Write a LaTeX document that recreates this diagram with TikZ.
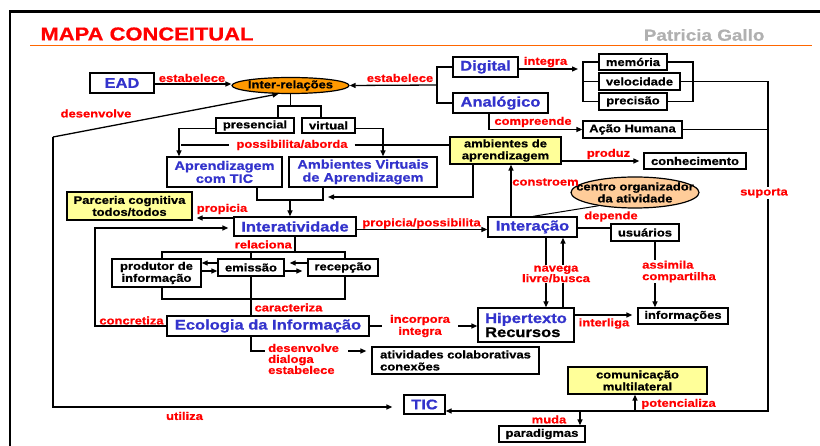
\documentclass[tikz,border=0pt]{standalone}
\usepackage{fontspec}
\setmainfont{Liberation Sans}[FakeStretch=1.18,FakeBold=0.8]
\usetikzlibrary{arrows.meta,shapes.geometric}
\definecolor{tred}{HTML}{FF0000}
\definecolor{tblue}{HTML}{3333CC}
\definecolor{tyel}{HTML}{FFFF99}
\definecolor{torange}{HTML}{FF9900}
\definecolor{tpeach}{HTML}{FFCC99}
\definecolor{tline}{HTML}{FF6600}
\definecolor{pgray}{HTML}{B0B0B0}
\begin{document}
\begin{tikzpicture}[x=1pt,y=-1pt,
  font=\bfseries\fontsize{11}{12}\selectfont,
  bx/.style={draw, line width=1.3pt, fill=white, inner sep=0pt, align=center},
  bl/.style={text=tblue, font=\bfseries\fontsize{14}{15}\selectfont},
  bm/.style={text=tblue, font=\bfseries\fontsize{12.3}{13}\selectfont},
  lbl/.style={text=tred, inner sep=1pt, align=center},
  wl/.style={lbl, fill=white},
  ln/.style={line width=1.3pt},
  arr/.style={ln, -{Triangle[length=6pt,width=5pt]}},
  ell/.style={ellipse, draw, line width=1.2pt, inner sep=0pt}
]
\useasboundingbox (0,0) rectangle (820,446);
% frame and header
\draw[line width=2.5pt] (10,446) -- (10,11.3) -- (820,11.3);
\draw[tline, line width=1.3pt] (30,45.7) -- (812,45.7);
\node[anchor=west, text=tred, font=\bfseries\fontsize{18.6}{20}\selectfont] (title) at (37,34) {MAPA CONCEITUAL};
\node[anchor=east, text=pgray, font=\bfseries\fontsize{16}{18}\selectfont] (auth) at (768,35) {Patricia Gallo};

% nodes
\node[bx,bl,minimum width=64pt,minimum height=20pt] (ead) at (122,83) {EAD};
\node[ell,fill=torange,minimum width=117pt,minimum height=16pt] (inter) at (290.5,85.5) {};
\node (intertxt) at (inter) {Inter-relações};
\node[bx,bl,minimum width=65pt,minimum height=20pt] (dig) at (485.5,67) {Digital};
\node[bx,bl,minimum width=95pt,minimum height=20pt] (ana) at (500.5,103) {Analógico};
\node[bx,minimum width=68pt,minimum height=16pt] (mem) at (633,62) {memória};
\node[bx,minimum width=81pt,minimum height=17pt] (vel) at (639.5,81.5) {velocidade};
\node[bx,minimum width=68pt,minimum height=17pt] (pre) at (633,101.5) {precisão};
\node[bx,minimum width=99pt,minimum height=17pt] (acao) at (632.5,129.5) {Ação Humana};
\node[bx,minimum width=78pt,minimum height=15pt] (pres) at (255,125.5) {presencial};
\node[bx,minimum width=53pt,minimum height=15pt] (virt) at (328.5,125.5) {virtual};
\node[bx,bm,minimum width=115pt,minimum height=30pt] (aptic) at (224.5,172) {Aprendizagem\\com TIC};
\node[bx,bm,minimum width=148pt,minimum height=30pt] (ava) at (363,172) {Ambientes Virtuais\\de Aprendizagem};
\node[bx,fill=tyel,minimum width=111pt,minimum height=27pt] (amb) at (505.5,150.5) {ambientes de\\aprendizagem};
\node[bx,minimum width=102pt,minimum height=16pt] (conh) at (695,161) {conhecimento};
\node[ell,fill=tpeach,minimum width=128pt,minimum height=31pt] (centro) at (635,192.5) {};
\node[align=center] (centrotxt) at (centro) {centro organizador\\da atividade};
\node[bx,fill=tyel,minimum width=125pt,minimum height=28pt] (parc) at (129.5,206) {Parceria cognitiva\\todos/todos};
\node[bx,bl,minimum width=122pt,minimum height=19pt] (intv) at (295,226.5) {Interatividade};
\node[bx,bl,minimum width=89pt,minimum height=20pt] (intc) at (532.5,227) {Interação};
\node[bx,minimum width=68pt,minimum height=17pt] (usu) at (645,232.5) {usuários};
\node[bx,minimum width=89pt,minimum height=28pt] (prod) at (156.5,273) {produtor de\\informação};
\node[bx,minimum width=66pt,minimum height=17pt] (emi) at (251,267.5) {emissão};
\node[bx,minimum width=70pt,minimum height=17pt] (rec) at (343,267.5) {recepção};
\node[bx,minimum width=90pt,minimum height=16pt] (info) at (683,316) {informações};
\node[bx,align=left,minimum width=96pt,minimum height=34pt,font=\bfseries\fontsize{14}{14}\selectfont] (hip) at (526,325) {\textcolor{tblue}{Hipertexto}\\Recursos};
\node[bx,bl,minimum width=202pt,minimum height=20pt] (eco) at (268,326) {Ecologia da Informação};
\node[bx,align=left,minimum width=167pt,minimum height=27pt] (ativ) at (455.5,360.5) {atividades colaborativas\\conexões};
\node[bx,fill=tyel,minimum width=139pt,minimum height=27pt] (com) at (637.5,380.5) {comunicação\\multilateral};
\node[bx,bl,minimum width=41pt,minimum height=19pt] (tic) at (424.5,404.5) {TIC};
\node[bx,minimum width=86pt,minimum height=16pt] (par) at (542,434) {paradigmas};

% coordinates
\coordinate (db) at (437,85);
\coordinate (ib) at (578,69);
\coordinate (s1) at (768,411);
\coordinate (lc) at (53,137);
\coordinate (lb) at (53,407);
\coordinate (pa) at (181,145);
\coordinate (ab) at (328,197);
\coordinate (pp) at (234,218);
\coordinate (de1) at (265,351);
\coordinate (de2) at (348,351);

% connectors top
\draw[arr] (ead.east |- 0,84) -- (inter.west |- 0,84);
\node[lbl] (l1) at (192,78) {estabelece};
\draw[ln] (dig.west) -- (437,67) -- (437,103) -- (ana.west);
\draw[arr] (db) -- (inter.east);
\node[lbl] (l2) at (400,78) {estabelece};
\draw[arr] (dig.east |- ib) -- (ib);
\node[lbl] (l3) at (545.5,62) {integra};
\draw[ln] (mem.west) -- (583,62) -- (583,101.5) -- (pre.west);
\draw[ln] (vel.west) -- (583,81.5);
\draw[ln] (mem.east) -- (693,62) -- (693,101.5) -- (pre.east);
\draw[arr] (vel.east) -- (768,81.5) -- (s1) -- (tic.east |- s1);
\draw[ln] (acao.east) -- (768,129.5);
\node[wl] (lsup) at (764,193) {suporta};
\draw[arr] (489,0 |- ana.south) -- (489,129.5) -- (acao.west);
\node[lbl] (l4) at (533,122) {compreende};
\draw[arr] (580,0 |- s1) -- (580,0 |- par.north);
\node[lbl] (lmuda) at (549,419.5) {muda};
\draw[arr] (635,0 |- s1) -- (635,0 |- com.south);
\node[lbl] (lpot) at (678.5,404) {potencializa};

% left long line
\draw[arr] (lc) -- (inter.215);
\node[lbl] (ldev) at (96,113.5) {desenvolve};
\draw[arr,shorten >=11pt] (lc) -- (lb) -- (tic.west |- lb);
\node[lbl] (luti) at (184.5,416) {utiliza};

% inter-relacoes tree
\draw[ln] (inter.south) -- (290.5,106);
\draw[ln] (278,0 |- pres.north) -- (278,106) -- (321,106) -- (321,0 |- virt.north);
\draw[arr] ([yshift=-3pt]pres.west) -- (179,128.5) -- (179,0 |- aptic.north);
\draw[arr] ([yshift=-3pt]virt.east) -- (383,128.5) -- (383,0 |- ava.north);
\node[lbl, inner xsep=7pt] (lpos) at (292,145) {possibilita/aborda};
\draw[ln] (pa) -- (lpos.west);
\draw[ln] (lpos.east) -- (amb.west |- pa);

% to interatividade
\draw[ln] (257,0 |- aptic.south) -- (257,200) -- (323,200) -- (323,0 |- ava.south);
\draw[arr] (290,200) -- (290,0 |- intv.north);
\draw[arr] (473,0 |- amb.south) -- (473,197) -- (ab);
\draw[arr,shorten >=4pt] (pp) -- (parc.east |- pp);
\node[lbl] (lprop) at (222,209) {propicia};
\draw[arr,shorten >=5pt] (eco.west) -- (95,326) -- (95,228) -- (intv.west |- 95,228);
\node[lbl] (lconc) at (131.5,320.5) {concretiza};
\draw[arr] (intv.east |- 0,229.5) -- (intc.west |- 0,229.5);
\node[lbl] (lpp) at (421.5,223.5) {propicia/possibilita};

% interacao area
\draw[arr] (511,0 |- intc.north) -- (511,0 |- amb.south);
\node[lbl] (lcon) at (545.5,182) {constroem};
\draw[line width=1pt] (centro.200) -- (533,0 |- intc.north);
\draw[arr,shorten >=4pt] (amb.east |- 0,161) -- (conh.west |- 0,161);
\node[lbl] (lprod) at (608.5,154) {produz};
\draw[ln] (intc.east |- 0,228) -- (usu.west |- 0,228);
\node[lbl] (ldep) at (611,216.5) {depende};
\draw[arr] (655,0 |- usu.south) -- (655,0 |- info.north);
\node[wl, align=left, anchor=west, font=\bfseries\fontsize{11}{11.5}\selectfont] (lass) at (641,271.5) {assimila\\compartilha};
\draw[arr] (546,0 |- intc.south) -- (546,0 |- hip.north);
\draw[arr] (563,0 |- hip.north) -- (563,0 |- intc.south);
\node[wl, font=\bfseries\fontsize{11}{10.5}\selectfont] (lnav) at (556,274) {navega\\livre/busca};
\draw[arr,shorten >=5pt] (hip.east |- 0,315) -- (info.west |- 0,315);
\node[lbl] (lint) at (604,323.5) {interliga};

% relaciona tree
\draw[ln] (intv.south) -- (295,252);
\node[lbl, anchor=east] (lrel) at (293,244.5) {relaciona};
\draw[ln] (162,0 |- prod.north) -- (162,252) -- (345,252) -- (345,0 |- rec.north);
\draw[ln] (251,252) -- (emi.north);
\draw[ln] (162,0 |- prod.south) -- (162,299) -- (345,299) -- (345,0 |- rec.south);
\draw[ln] (emi.south) -- (251,0 |- eco.north);
\node[lbl] (lcar) at (288.5,307.5) {caracteriza};
\draw[arr] (emi.west |- 0,263) -- (prod.east |- 0,263);
\draw[arr] (prod.east |- 0,271) -- (emi.west |- 0,271);
\draw[arr,shorten >=5pt] (rec.west |- 0,263) -- (emi.east |- 0,263);
\draw[arr,shorten >=5pt] (emi.east |- 0,271) -- (rec.west |- 0,271);

% ecologia
\node[lbl, inner xsep=8pt, font=\bfseries\fontsize{11}{12}\selectfont] (linc) at (420,326) {incorpora\\integra};
\draw[ln] (eco.east) -- (linc.west);
\draw[arr] (linc.east) -- (hip.west |- linc.east);
\draw[ln] (251,0 |- eco.south) -- (251,351) -- (de1);
\node[lbl, align=left, anchor=west, font=\bfseries\fontsize{11}{11}\selectfont] (ldes) at (267,359) {desenvolve\\dialoga\\estabelece};
\draw[arr,shorten >=5pt] (de2) -- (ativ.west |- de2);
\end{tikzpicture}
\end{document}
